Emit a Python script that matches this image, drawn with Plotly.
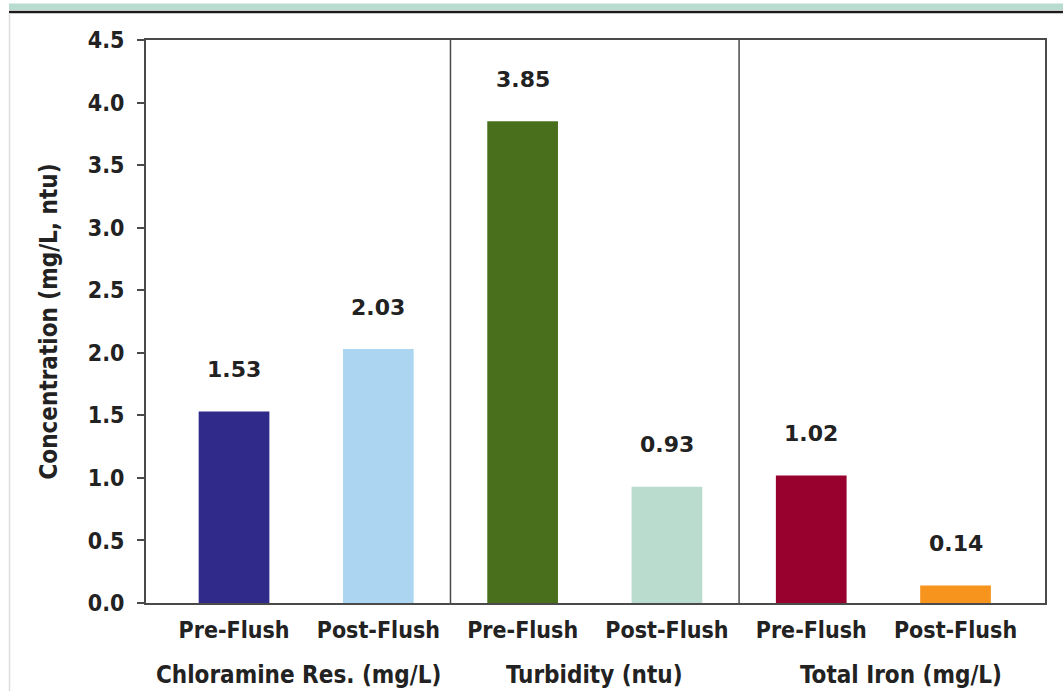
import plotly.graph_objects as go

# Measurements before and after flushing, grouped by parameter
groups = ["Chloramine Res. (mg/L)", "Turbidity (ntu)", "Total Iron (mg/L)"]
phases = ["Pre-Flush", "Post-Flush"]
values = [1.53, 2.03, 3.85, 0.93, 1.02, 0.14]
value_labels = ["1.53", "2.03", "3.85", "0.93", "1.02", "0.14"]
bar_colors = ["#302b8a", "#acd5f1", "#4a6f1c", "#b9dccf", "#98002e", "#f7941e"]
y_ticks = [0.0, 0.5, 1.0, 1.5, 2.0, 2.5, 3.0, 3.5, 4.0, 4.5]

W, H = 1063, 691
L, R, T, B = 146, 18, 40, 88

n_phase = len(phases)
positions = list(range(len(groups) * n_phase))
tick_text = [phases[i % n_phase] for i in positions]

COND = "DejaVu Sans Condensed, Liberation Sans Narrow, Arial Narrow, sans-serif"
INK = "#222222"
FRAME = "#4a4a4a"

fig = go.Figure(
    go.Bar(
        x=positions,
        y=values,
        width=0.49,
        marker=dict(color=bar_colors, line=dict(width=0)),
        hoverinfo="skip",
    )
)

# value labels above each bar
for xi, v, lab in zip(positions, values, value_labels):
    fig.add_annotation(
        x=xi, y=v, text=f"<b>{lab}</b>", showarrow=False,
        yanchor="middle", yshift=42,
        font=dict(family="DejaVu Sans, Arial, sans-serif", size=22, color=INK),
    )

# group titles under the phase labels
group_shift = [-8, 0, 18]
for g, name in enumerate(groups):
    mid = (positions[g * n_phase] + positions[g * n_phase + n_phase - 1]) / 2
    fig.add_annotation(
        x=mid, xref="x", y=-72 / (H - T - B), yref="paper",
        text=f"<b>{name}</b>", showarrow=False, yanchor="middle",
        xshift=group_shift[g],
        font=dict(family=COND, size=24, color=INK),
    )

# vertical separators between groups
for g in range(1, len(groups)):
    xs = (positions[g * n_phase - 1] + positions[g * n_phase]) / 2
    fig.add_shape(type="line", xref="x", yref="paper", x0=xs, x1=xs, y0=0, y1=1,
                  line=dict(color=FRAME, width=1.5))


def px_x(px):
    return (px - L) / (W - L - R)


def px_y(py):
    return (H - B - py) / (H - T - B)


# page decoration: teal band, dark rule and light left edge
fig.add_shape(type="rect", xref="paper", yref="paper",
              x0=px_x(9), x1=px_x(W + 5), y0=px_y(10), y1=px_y(3.5),
              fillcolor="#b8dccf", line=dict(width=0), layer="below")
fig.add_shape(type="line", xref="paper", yref="paper",
              x0=px_x(9), x1=px_x(W + 5), y0=px_y(12), y1=px_y(12),
              line=dict(color="#1c1c1c", width=2.5))
fig.add_shape(type="line", xref="paper", yref="paper",
              x0=px_x(9.5), x1=px_x(9.5), y0=px_y(13), y1=px_y(H + 5),
              line=dict(color="#dcdcdc", width=1.5))

fig.update_layout(
    width=W, height=H,
    margin=dict(l=L, r=R, t=T, b=B, autoexpand=False),
    paper_bgcolor="white", plot_bgcolor="white",
    showlegend=False,
    xaxis=dict(
        range=[-0.61, 5.62], tickmode="array", tickvals=positions,
        ticktext=[f"<b>{t}</b>" for t in tick_text],
        tickfont=dict(family=COND, size=23, color=INK),
        ticks="", showgrid=False, zeroline=False,
        showline=True, linecolor=FRAME, linewidth=2, mirror=True,
        ticklabelstandoff=5,
    ),
    yaxis=dict(
        range=[0, 4.5], tickmode="array", tickvals=y_ticks,
        ticktext=[f"<b>{t:.1f}</b>" for t in y_ticks],
        tickfont=dict(family=COND, size=23, color=INK),
        ticks="outside", ticklen=7, tickwidth=1.5, tickcolor=FRAME,
        showgrid=False, zeroline=False,
        showline=True, linecolor=FRAME, linewidth=2, mirror=True,
        ticklabelstandoff=8,
        title=dict(text="<b>Concentration (mg/L, ntu)</b>",
                   font=dict(family=COND, size=24, color=INK), standoff=23),
    ),
)

fig.write_html("out.html")
